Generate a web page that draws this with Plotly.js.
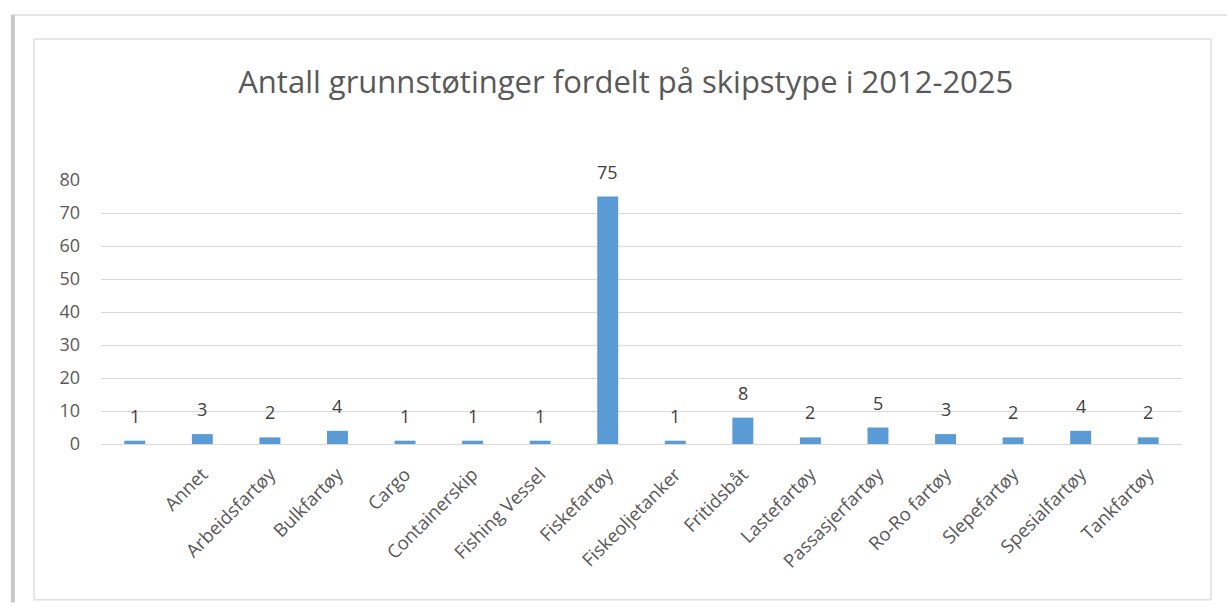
<!DOCTYPE html>
<html>
<head>
<meta charset="utf-8">
<script src="https://cdn.plot.ly/plotly-3.0.1.min.js"></script>
<style>html,body{margin:0;padding:0;background:#fff;}#chart{width:1227px;height:606px;}</style>
</head>
<body>
<div id="chart"></div>
<script>
const chartTitle = "Antall grunnstøtinger fordelt på skipstype i 2012-2025";
const categories = [" ", "Annet", "Arbeidsfartøy", "Bulkfartøy", "Cargo", "Containerskip", "Fishing Vessel", "Fiskefartøy", "Fiskeoljetanker", "Fritidsbåt", "Lastefartøy", "Passasjerfartøy", "Ro-Ro fartøy", "Slepefartøy", "Spesialfartøy", "Tankfartøy"];
const counts = [1, 3, 2, 4, 1, 1, 1, 75, 1, 8, 2, 5, 3, 2, 4, 2];
const yTicks = [0, 10, 20, 30, 40, 50, 60, 70, 80];

const font = "Open Sans, Liberation Sans, sans-serif";
const trace = {
  type: "bar",
  x: categories,
  y: counts,
  marker: {color: "#5B9BD5"},
  width: 0.31,
  hoverinfo: "x+y"
};
const labels = categories.map((c, i) => ({
  x: c, y: counts[i], xref: "x", yref: "y",
  text: String(counts[i]), showarrow: false,
  yanchor: "middle", xanchor: "center", yshift: 25,
  font: {family: font, size: 18, color: "#404040"}
}));
const layout = {
  width: 1227, height: 606,
  margin: {l: 101, r: 45, t: 180, b: 162},
  paper_bgcolor: "#ffffff", plot_bgcolor: "#ffffff",
  showlegend: false,
  title: {text: chartTitle, font: {family: font, size: 31, color: "#595959"}, xref: "container", x: 0.51, xanchor: "center", yref: "container", y: 0.865, yanchor: "middle"},
  xaxis: {type: "category", tickangle: -45, tickfont: {family: font, size: 18.5, color: "#595959"}, showgrid: false, showline: false, ticks: "", ticklabelstandoff: 15, automargin: false},
  yaxis: {range: [0, 80], tickvals: yTicks, tickfont: {family: font, size: 18, color: "#595959"}, gridcolor: "#d9d9d9", gridwidth: 1, zeroline: true, zerolinecolor: "#d9d9d9", showline: false, ticks: "", ticklabelstandoff: 20, automargin: false},
  annotations: labels,
  shapes: [
    {type: "rect", xref: "paper", yref: "paper", x0: -0.062, x1: 1.0268, y0: -0.59, y1: 1.534, line: {color: "#e0e0e0", width: 1.5}, fillcolor: "rgba(0,0,0,0)", layer: "below"},
    {type: "line", xref: "paper", yref: "paper", x0: -0.083, x1: 1.05, y0: 1.625, y1: 1.625, line: {color: "#e6e6e6", width: 2}},
    {type: "line", xref: "paper", yref: "paper", x0: -0.0815, x1: -0.0815, y0: -0.6, y1: 1.625, line: {color: "#c8c8c8", width: 4}}
  ]
};
Plotly.newPlot("chart", [trace], layout, {displayModeBar: false, staticPlot: true});
</script>
</body>
</html>
